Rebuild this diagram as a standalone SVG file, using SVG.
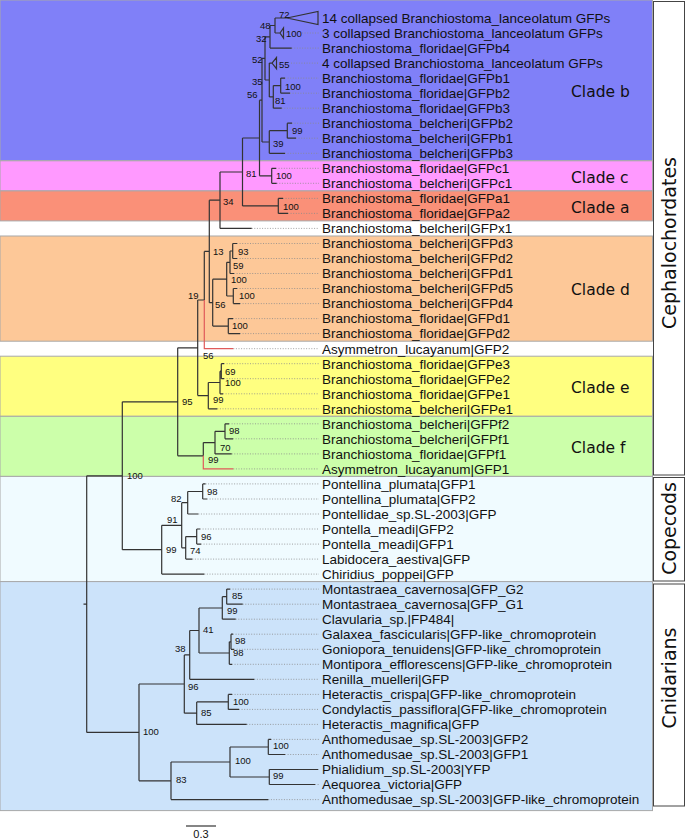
<svg xmlns="http://www.w3.org/2000/svg" width="685" height="838" viewBox="0 0 685 838">
<style>
.leaf{font-family:"Liberation Sans",Arial,sans-serif;font-size:13.5px;fill:#111}
.bs{font-family:"Liberation Sans",Arial,sans-serif;font-size:9.5px;fill:#111}
.clade{font-family:"DejaVu Sans",Verdana,sans-serif;font-size:15.5px;fill:#111}
.grp{font-family:"DejaVu Sans",Verdana,sans-serif;font-size:19px;fill:#111}
.br{fill:none;stroke:#333;stroke-width:1.2}
.red{fill:none;stroke:#e05a5a;stroke-width:1.2}
.dot{fill:none;stroke:#8a8a8a;stroke-width:0.8;stroke-dasharray:1 1.6}
.band{stroke:#a8a8a8;stroke-width:1}
.box{fill:#fff;stroke:#444;stroke-width:1}
</style>
<rect width="685" height="838" fill="#fff"/>
<g id="bands">
<rect class="band" x="0" y="0" width="652.5" height="160.8" fill="#8080f8"/>
<rect class="band" x="0" y="160.8" width="652.5" height="30.1" fill="#ff99ff"/>
<rect class="band" x="0" y="190.9" width="652.5" height="30" fill="#fa9078"/>
<rect class="band" x="0" y="236" width="652.5" height="105.2" fill="#fdc898"/>
<rect class="band" x="0" y="356.2" width="652.5" height="60.1" fill="#ffff80"/>
<rect class="band" x="0" y="416.3" width="652.5" height="60.1" fill="#ccffaa"/>
<rect class="band" x="0" y="476.4" width="652.5" height="105.2" fill="#f0fbff"/>
<rect class="band" x="0" y="581.6" width="652.5" height="229" fill="#cce3fa"/>
</g>
<g id="group-boxes">
<g id="cephalochordates"><rect class="box" x="653.5" y="1.5" width="31" height="473.5"/><text class="grp" transform="translate(675.5,243) rotate(-90)" text-anchor="middle">Cephalochordates</text></g>
<g id="copecods"><rect class="box" x="653.5" y="477.5" width="31" height="103.5"/><text class="grp" transform="translate(675.5,528.5) rotate(-90)" text-anchor="middle">Copecods</text></g>
<g id="cnidarians"><rect class="box" x="653.5" y="584" width="31" height="222"/><text class="grp" transform="translate(675.5,678) rotate(-90)" text-anchor="middle">Cnidarians</text></g>
</g>
<g id="clade-labels">
<text id="clade-b" class="clade" x="571" y="96.5">Clade b</text>
<text id="clade-c" class="clade" x="571" y="182.7">Clade c</text>
<text id="clade-a" class="clade" x="571" y="213">Clade a</text>
<text id="clade-d" class="clade" x="571" y="295">Clade d</text>
<text id="clade-e" class="clade" x="571" y="393">Clade e</text>
<text id="clade-f" class="clade" x="571" y="453">Clade f</text>
</g>
<g id="connectors">
<path class="dot" d="M302 33H319M291.7 48.1H319M291 63.1H319M285 78.1H319M290 93.2H319M281.7 108.2H319M292 123.2H319M296 138.2H319M285 153.3H319M276 168.3H319M276.7 183.3H319M283 198.4H319M288 213.4H319M251.7 228.4H319M237 243.5H319M237 258.5H319M234 273.5H319M237 288.5H319M240 303.6H319M233 318.6H319M240 333.6H319M233.3 348.7H319M224 363.7H319M224 378.7H319M223 393.8H319M217.3 408.8H319M229 423.8H319M233 438.8H319M231.7 453.9H319M233.3 468.9H319M205.5 483.9H319M207 499H319M198.3 514H319M200 529H319M201 544.1H319M192.3 559.1H319M204.3 574.1H319M230 589.1H319M242.7 604.2H319M235.7 619.2H319M233 634.2H319M234 649.3H319M232 664.3H319M254.3 679.3H319M232 694.4H319M239 709.4H319M246.7 724.4H319M271 739.4H319M285 754.5H319M315 784.5H319M268.3 799.6H319"/>
<path class="br" d="M275 18V33M275 18H287M275 33H280M287 18L318 11.5V24.5ZM280 33L283.5 28V38Z
M270 25.5V48.1M270 25.5H275M270 48.1H291.7
M272 63.1L276.5 57.5V68.7Z
M280.7 78.1V93.2M280.7 78.1H285M280.7 93.2H290
M273.3 85.6V108.2M273.3 85.6H280.7M273.3 108.2H281.7
M269.3 63.1V96.9M269.3 63.1H272M269.3 96.9H273.3
M265 36.8V80M265 36.8H270M265 80H269.3
M287.3 123.2V138.2M287.3 123.2H292M287.3 138.2H296
M269.3 130.7V153.3M269.3 130.7H287.3M269.3 153.3H285
M262 58.4V142M262 58.4H265M262 142H269.3
M271.7 168.3V183.3M271.7 168.3H276M271.7 183.3H276.7
M259.5 100.2V175.8M259.5 100.2H262M259.5 175.8H271.7
M278.3 198.4V213.4M278.3 198.4H283M278.3 213.4H288
M242.5 138V205.9M242.5 138H259.5M242.5 205.9H278.3
M220 172V228.4M220 172H242.5M220 228.4H251.7
M232.7 243.5V258.5M232.7 243.5H237M232.7 258.5H237
M230 251V273.5M230 251H232.7M230 273.5H234
M233.3 288.5V303.6M233.3 288.5H237M233.3 303.6H240
M226.7 262.3V296M226.7 262.3H230M226.7 296H233.3
M228.3 318.6V333.6M228.3 318.6H233M228.3 333.6H240
M212.7 279.2V326.1M212.7 279.2H226.7M212.7 326.1H228.3
M209.3 200.2V302.7M209.3 200.2H220M209.3 302.7H212.7
M204.3 251.4V300M204.3 251.4H209.3
M221.3 363.7V378.7M221.3 363.7H224M221.3 378.7H224
M220 371.2V393.8M220 371.2H221.3M220 393.8H223
M208.3 382.5V408.8M208.3 382.5H220M208.3 408.8H217.3
M197.7 300V395.6M197.7 300H204.3M197.7 395.6H208.3
M225 423.8V438.8M225 423.8H229M225 438.8H233
M215 431.3V453.9M215 431.3H225M215 453.9H231.7
M203.3 442.6V455.8M203.3 442.6H215
M177.7 347.8V455.8M177.7 347.8H197.7M177.7 455.8H203.3
M202.7 483.9V499M202.7 483.9H205.5M202.7 499H207
M187.7 491.5V514M187.7 491.5H202.7M187.7 514H198.3
M196.7 529V544.1M196.7 529H200M196.7 544.1H201
M185.7 536.6V559.1M185.7 536.6H196.7M185.7 559.1H192.3
M181.7 502.7V547.8M181.7 502.7H187.7M181.7 547.8H185.7
M161.7 525.3V574.1M161.7 525.3H181.7M161.7 574.1H204.3
M122.3 401.8V549.7M122.3 401.8H177.7M122.3 549.7H161.7
M226.7 589.1V604.2M226.7 589.1H230M226.7 604.2H242.7
M222.3 596.7V619.2M222.3 596.7H226.7M222.3 619.2H235.7
M231 634.2V649.3M231 634.2H233M231 649.3H234
M229.3 641.8V664.3M229.3 641.8H231M229.3 664.3H232
M199 608V653M199 608H222.3M199 653H229.3
M189.7 630.5V679.3M189.7 630.5H199M189.7 679.3H254.3
M228.3 694.4V709.4M228.3 694.4H232M228.3 709.4H239
M196.7 701.9V724.4M196.7 701.9H228.3M196.7 724.4H246.7
M184.3 654.9V713.2M184.3 654.9H189.7M184.3 713.2H196.7
M268.3 739.4V754.5M268.3 739.4H271M268.3 754.5H285
M269.3 769.5V784.5M269.3 769.5H318.3M269.3 784.5H315
M230 747V777M230 747H268.3M230 777H269.3
M171 762V799.6M171 762H230M171 799.6H268.3
M139 684V780.8M139 684H184.3M139 780.8H171
M86.7 475.8V732.4M86.7 475.8H122.3M86.7 732.4H139M83.5 604.1H86.7"/>
<path class="red" d="M204.3 300V348.7H233.3M203.3 455.8V468.9H233.3"/>
<path class="br" d="M186 826H216"/>
</g>
<g id="bootstrap" class="bs">
<text x="279" y="18.4">72</text><text x="260" y="29.4">48</text><text x="286" y="36.7">100</text><text x="256" y="41.7">32</text>
<text x="252" y="63.4">52</text><text x="279" y="68.4">55</text><text x="252" y="85.1">35</text><text x="285" y="90.1">100</text>
<text x="247" y="97.7">56</text><text x="275" y="104.4">81</text><text x="292" y="134.4">99</text><text x="273" y="146.7">39</text>
<text x="246" y="176.7">81</text><text x="276" y="179.4">100</text><text x="223" y="205.1">34</text><text x="283" y="210.1">100</text>
<text x="213" y="255.1">13</text><text x="238" y="255.1">93</text><text x="233" y="269.4">59</text><text x="231" y="282.7">100</text>
<text x="188" y="299.4">19</text><text x="239" y="299.4">100</text><text x="215" y="308.4">56</text><text x="232" y="329.1">100</text>
<text x="203" y="359.4">56</text><text x="225" y="375.1">69</text><text x="225" y="386.1">100</text><text x="213" y="403.4">99</text>
<text x="182" y="405.1">95</text><text x="229" y="434.4">98</text><text x="220" y="450.7">70</text><text x="208" y="463.4">99</text>
<text x="127" y="479.1">100</text><text x="207" y="495.1">98</text><text x="171" y="501.7">82</text><text x="167" y="522.7">91</text>
<text x="201" y="540.1">96</text><text x="166" y="552.7">99</text><text x="190" y="554.4">74</text>
<text x="232" y="599.4">85</text><text x="227" y="614.4">99</text><text x="203" y="633.4">41</text><text x="235" y="644.4">98</text>
<text x="175" y="651.7">38</text><text x="233" y="656.1">98</text><text x="188" y="690.1">96</text><text x="233" y="705.1">100</text>
<text x="201" y="716.1">85</text><text x="143" y="735.1">100</text><text x="273" y="749.4">100</text><text x="235" y="764.4">100</text>
<text x="273" y="779.4">99</text><text x="176" y="783.4">83</text>
</g>
<g id="leaves" class="leaf">
<g id="n0"><text x="322" y="22.8">14 collapsed Branchiostoma_lanceolatum GFPs</text></g>
<g id="n1"><text x="322" y="37.8">3 collapsed Branchiostoma_lanceolatum GFPs</text></g>
<g id="n2"><text x="322" y="52.9">Branchiostoma_floridae|GFPb4</text></g>
<g id="n3"><text x="322" y="67.9">4 collapsed Branchiostoma_lanceolatum GFPs</text></g>
<g id="n4"><text x="322" y="82.9">Branchiostoma_floridae|GFPb1</text></g>
<g id="n5"><text x="322" y="98">Branchiostoma_floridae|GFPb2</text></g>
<g id="n6"><text x="322" y="113">Branchiostoma_floridae|GFPb3</text></g>
<g id="n7"><text x="322" y="128">Branchiostoma_belcheri|GFPb2</text></g>
<g id="n8"><text x="322" y="143">Branchiostoma_belcheri|GFPb1</text></g>
<g id="n9"><text x="322" y="158.1">Branchiostoma_belcheri|GFPb3</text></g>
<g id="n10"><text x="322" y="173.1">Branchiostoma_floridae|GFPc1</text></g>
<g id="n11"><text x="322" y="188.1">Branchiostoma_belcheri|GFPc1</text></g>
<g id="n12"><text x="322" y="203.2">Branchiostoma_floridae|GFPa1</text></g>
<g id="n13"><text x="322" y="218.2">Branchiostoma_floridae|GFPa2</text></g>
<g id="n14"><text x="322" y="233.2">Branchiostoma_belcheri|GFPx1</text></g>
<g id="n15"><text x="322" y="248.3">Branchiostoma_belcheri|GFPd3</text></g>
<g id="n16"><text x="322" y="263.3">Branchiostoma_belcheri|GFPd2</text></g>
<g id="n17"><text x="322" y="278.3">Branchiostoma_belcheri|GFPd1</text></g>
<g id="n18"><text x="322" y="293.3">Branchiostoma_belcheri|GFPd5</text></g>
<g id="n19"><text x="322" y="308.4">Branchiostoma_belcheri|GFPd4</text></g>
<g id="n20"><text x="322" y="323.4">Branchiostoma_floridae|GFPd1</text></g>
<g id="n21"><text x="322" y="338.4">Branchiostoma_floridae|GFPd2</text></g>
<g id="n22"><text x="322" y="353.5">Asymmetron_lucayanum|GFP2</text></g>
<g id="n23"><text x="322" y="368.5">Branchiostoma_floridae|GFPe3</text></g>
<g id="n24"><text x="322" y="383.5">Branchiostoma_floridae|GFPe2</text></g>
<g id="n25"><text x="322" y="398.6">Branchiostoma_floridae|GFPe1</text></g>
<g id="n26"><text x="322" y="413.6">Branchiostoma_belcheri|GFPe1</text></g>
<g id="n27"><text x="322" y="428.6">Branchiostoma_belcheri|GFPf2</text></g>
<g id="n28"><text x="322" y="443.6">Branchiostoma_belcheri|GFPf1</text></g>
<g id="n29"><text x="322" y="458.7">Branchiostoma_floridae|GFPf1</text></g>
<g id="n30"><text x="322" y="473.7">Asymmetron_lucayanum|GFP1</text></g>
<g id="n31"><text x="322" y="488.7">Pontellina_plumata|GFP1</text></g>
<g id="n32"><text x="322" y="503.8">Pontellina_plumata|GFP2</text></g>
<g id="n33"><text x="322" y="518.8">Pontellidae_sp.SL-2003|GFP</text></g>
<g id="n34"><text x="322" y="533.8">Pontella_meadi|GFP2</text></g>
<g id="n35"><text x="322" y="548.9">Pontella_meadi|GFP1</text></g>
<g id="n36"><text x="322" y="563.9">Labidocera_aestiva|GFP</text></g>
<g id="n37"><text x="322" y="578.9">Chiridius_poppei|GFP</text></g>
<g id="n38"><text x="322" y="593.9">Montastraea_cavernosa|GFP_G2</text></g>
<g id="n39"><text x="322" y="609">Montastraea_cavernosa|GFP_G1</text></g>
<g id="n40"><text x="322" y="624">Clavularia_sp.|FP484|</text></g>
<g id="n41"><text x="322" y="639">Galaxea_fascicularis|GFP-like_chromoprotein</text></g>
<g id="n42"><text x="322" y="654.1">Goniopora_tenuidens|GFP-like_chromoprotein</text></g>
<g id="n43"><text x="322" y="669.1">Montipora_efflorescens|GFP-like_chromoprotein</text></g>
<g id="n44"><text x="322" y="684.1">Renilla_muelleri|GFP</text></g>
<g id="n45"><text x="322" y="699.2">Heteractis_crispa|GFP-like_chromoprotein</text></g>
<g id="n46"><text x="322" y="714.2">Condylactis_passiflora|GFP-like_chromoprotein</text></g>
<g id="n47"><text x="322" y="729.2">Heteractis_magnifica|GFP</text></g>
<g id="n48"><text x="322" y="744.2">Anthomedusae_sp.SL-2003|GFP2</text></g>
<g id="n49"><text x="322" y="759.3">Anthomedusae_sp.SL-2003|GFP1</text></g>
<g id="n50"><text x="322" y="774.3">Phialidium_sp.SL-2003|YFP</text></g>
<g id="n51"><text x="322" y="789.3">Aequorea_victoria|GFP</text></g>
<g id="n52"><text x="322" y="804.4">Anthomedusae_sp.SL-2003|GFP-like_chromoprotein</text></g>
</g>
<g id="scale"><text class="bs" x="201" y="837.5" text-anchor="middle" style="font-size:11px">0.3</text></g>
</svg>
